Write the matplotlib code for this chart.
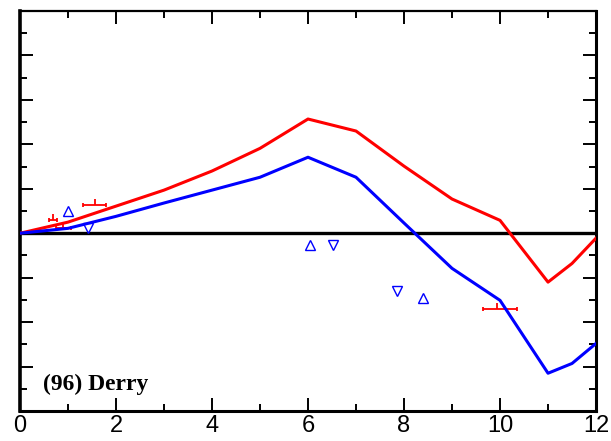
import numpy as np
import matplotlib
matplotlib.use('Agg')
import matplotlib.pyplot as plt
from matplotlib.ticker import MultipleLocator, NullFormatter

# Data ---------------------------------------------------------------------------------------
x_model = [0, 1, 2, 3, 4, 5, 6, 7, 8, 9, 10, 11, 11.5, 12]
red_model = [0, 0.25, 0.61, 0.97, 1.40, 1.91, 2.57, 2.30, 1.51, 0.77, 0.29, -1.10, -0.68, -0.11]
blue_model = [0, 0.11, 0.38, 0.68, 0.97, 1.26, 1.71, 1.26, 0.23, -0.79, -1.51, -3.15, -2.93, -2.48]

# blue observations
up_x = [1.00, 6.04, 8.40]
up_y = [0.50, -0.27, -1.46]
down_x = [1.42, 6.52, 7.85]
down_y = [0.11, -0.27, -1.31]

# red observations with horizontal error bars
err_x = [0.69, 0.90, 1.56, 9.94]
err_y = [0.29, 0.11, 0.63, -1.71]
err_lo = [0.08, 0.16, 0.24, 0.29]
err_hi = [0.08, 0.16, 0.24, 0.42]

site_label = "(96) Derry"

# Figure --------------------------------------------------------------------------------------
fig = plt.figure(figsize=(6.11, 4.41), dpi=100)
ax = fig.add_axes([0.0327, 0.068, 0.9428, 0.907])

ax.axhline(0, color='black', linewidth=2.4, zorder=2)
ax.plot(x_model, red_model, color='red', linewidth=2.2, zorder=3)
ax.plot(x_model, blue_model, color='blue', linewidth=2.2, zorder=3)

ax.plot(up_x, up_y, linestyle='none', marker='^', markersize=6.5, markerfacecolor='none',
        markeredgecolor='blue', markeredgewidth=1.0, zorder=4)
ax.plot(down_x, down_y, linestyle='none', marker='v', markersize=6.5, markerfacecolor='none',
        markeredgecolor='blue', markeredgewidth=1.0, zorder=4)

ax.errorbar(err_x, err_y, xerr=[err_lo, err_hi], fmt='none', ecolor='red', elinewidth=1.3,
            capsize=1.5, capthick=1.3, zorder=2.5)
ax.plot(err_x, err_y, linestyle='none', marker=2, markersize=4, color='red',
        markeredgewidth=1.3, zorder=2.5)

ax.text(0.04, 0.053, site_label, transform=ax.transAxes, fontsize=17, fontweight='bold',
        family='Liberation Serif', va='baseline', ha='left')

ax.set_xlim(0, 12)
ax.set_ylim(-4, 5)
ax.xaxis.set_major_locator(MultipleLocator(2))
ax.xaxis.set_minor_locator(MultipleLocator(1))
ax.yaxis.set_major_locator(MultipleLocator(1))
ax.yaxis.set_minor_locator(MultipleLocator(0.5))
ax.yaxis.set_major_formatter(NullFormatter())

ax.tick_params(which='both', direction='in', top=True, right=True, width=1.4, color='black')
ax.tick_params(which='major', length=9.5)
ax.tick_params(which='minor', length=5)
ax.tick_params(axis='x', which='major', pad=3)
for lab in ax.get_xticklabels():
    lab.set_family(['Liberation Sans Narrow', 'Liberation Sans'])
    lab.set_fontsize(17)

ax.spines['left'].set_linewidth(2.6)
ax.spines['bottom'].set_linewidth(2.2)
ax.spines['right'].set_linewidth(2.2)
ax.spines['top'].set_linewidth(1.6)

fig.savefig('out.png', dpi=100, facecolor='white')
